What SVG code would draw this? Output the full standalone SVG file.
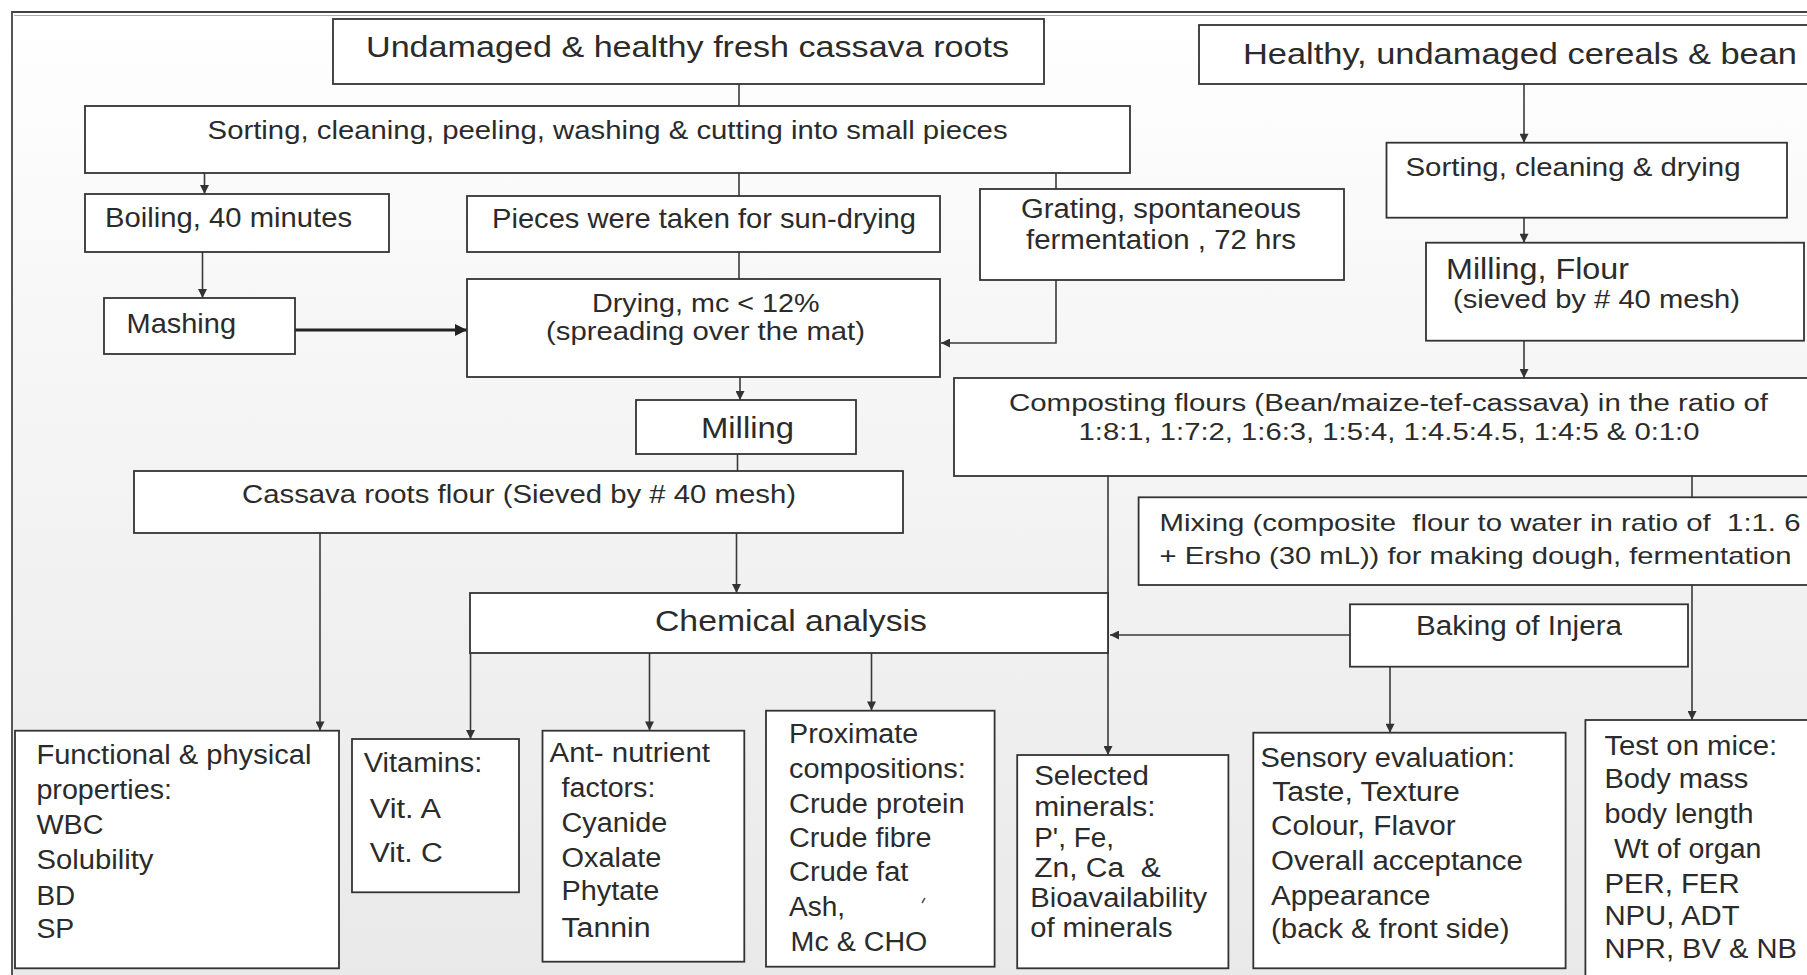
<svg xmlns="http://www.w3.org/2000/svg" width="1807" height="975" viewBox="0 0 1807 975">
<defs>
<linearGradient id="bg" x1="0" y1="0" x2="0" y2="1">
<stop offset="0" stop-color="#ffffff"/>
<stop offset="0.35" stop-color="#f6f6f6"/>
<stop offset="1" stop-color="#e9e9e9"/>
</linearGradient>
<marker id="ah" viewBox="0 0 10 10" refX="10" refY="5" markerWidth="10" markerHeight="9" markerUnits="userSpaceOnUse" orient="auto"><path d="M0,0 L10,5 L0,10 z" fill="#333"/></marker>
<marker id="ahb" viewBox="0 0 10 10" refX="10" refY="5" markerWidth="16" markerHeight="12" markerUnits="userSpaceOnUse" orient="auto"><path d="M0,0 L10,5 L0,10 z" fill="#222"/></marker>
<style>
.box{fill:#fff;stroke:#333;stroke-width:1.8}
.t{font-family:"Liberation Sans",Arial,sans-serif;fill:#2b2b2b}
.c{stroke:#3a3a3a;stroke-width:1.6;fill:none}
.ca{stroke:#3a3a3a;stroke-width:1.6;fill:none;marker-end:url(#ah)}
.f23{font-size:23px}.f24{font-size:24px}.f26{font-size:26px}.f27{font-size:27px}.f28{font-size:28px}.f29{font-size:29px}.f30{font-size:30px}
</style>
</defs>
<rect x="0" y="0" width="1807" height="975" fill="#fff"/>
<rect x="12" y="13" width="1800" height="970" fill="url(#bg)"/>
<g id="frame">
<path d="M12,980 V12 H1810" fill="none" stroke="#444" stroke-width="1.8"/>
<path d="M14,15.5 H1810" fill="none" stroke="#aaa" stroke-width="1"/>
</g>
<g id="connectors">
<path class="c" d="M739,84 V106"/>
<path class="c" d="M739,173 V196"/>
<path class="c" d="M739,252 V279"/>
<path class="ca" d="M204.5,173 V194"/>
<path class="ca" d="M202.5,252 V298"/>
<path d="M295,330 H467" fill="none" stroke="#222" stroke-width="3" marker-end="url(#ahb)"/>
<path class="c" d="M1056,173 V189"/>
<path class="ca" d="M1056,280 V343 H941"/>
<path class="ca" d="M740,377 V400"/>
<path class="c" d="M737.5,454 V471"/>
<path class="ca" d="M736.5,533 V593"/>
<path class="ca" d="M320,533 V730.5"/>
<path class="ca" d="M470.5,653 V739"/>
<path class="ca" d="M649.5,653 V730.5"/>
<path class="ca" d="M871.5,653 V710.5"/>
<path class="ca" d="M1108,476 V755"/>
<path class="ca" d="M1350,635 H1110"/>
<path class="ca" d="M1390,666.7 V732.7"/>
<path class="ca" d="M1692,476 V720"/>
<path class="ca" d="M1524,84 V142.7"/>
<path class="ca" d="M1524,217.7 V242.7"/>
<path class="ca" d="M1524,340.7 V378"/>
</g>
<g id="n1"><rect class="box" x="333" y="19" width="711" height="65"/><text class="t f29" x="366" y="57" textLength="643" lengthAdjust="spacingAndGlyphs">Undamaged &amp; healthy fresh cassava roots</text></g>
<g id="n2"><rect class="box" x="85" y="106" width="1045" height="67"/><text class="t f26" x="207.6" y="139" textLength="800" lengthAdjust="spacingAndGlyphs">Sorting, cleaning, peeling, washing &amp; cutting into small pieces</text></g>
<g id="n3"><rect class="box" x="85" y="194" width="304" height="58"/><text class="t f28" x="105" y="227" textLength="247" lengthAdjust="spacingAndGlyphs">Boiling, 40 minutes</text></g>
<g id="n4"><rect class="box" x="467" y="196" width="473" height="56"/><text class="t f28" x="492" y="228" textLength="424" lengthAdjust="spacingAndGlyphs">Pieces were taken for sun-drying</text></g>
<g id="n5"><rect class="box" x="980" y="189" width="364" height="91"/><text class="t f27" x="1021" y="218" textLength="280" lengthAdjust="spacingAndGlyphs">Grating, spontaneous</text><text class="t f27" x="1026" y="249" textLength="270" lengthAdjust="spacingAndGlyphs">fermentation , 72 hrs</text></g>
<g id="n6"><rect class="box" x="104" y="298" width="191" height="56"/><text class="t f28" x="126.5" y="333" textLength="109.5" lengthAdjust="spacingAndGlyphs">Mashing</text></g>
<g id="n7"><rect class="box" x="467" y="279" width="473" height="98"/><text class="t f26" x="592" y="312" textLength="227.5" lengthAdjust="spacingAndGlyphs">Drying, mc &lt; 12%</text><text class="t f26" x="546" y="340" textLength="319" lengthAdjust="spacingAndGlyphs">(spreading over the mat)</text></g>
<g id="n8"><rect class="box" x="636" y="400" width="220" height="54"/><text class="t f30" x="701" y="438" textLength="93" lengthAdjust="spacingAndGlyphs">Milling</text></g>
<g id="n9"><rect class="box" x="134" y="471" width="769" height="62"/><text class="t f26" x="242" y="503" textLength="554" lengthAdjust="spacingAndGlyphs">Cassava roots flour (Sieved by # 40 mesh)</text></g>
<g id="n10"><rect class="box" x="470" y="593" width="638" height="60"/><text class="t f29" x="655" y="631" textLength="272" lengthAdjust="spacingAndGlyphs">Chemical analysis</text></g>
<g id="n11"><rect class="box" x="1199" y="25" width="620" height="59"/><text class="t f29" x="1243" y="64" textLength="554" lengthAdjust="spacingAndGlyphs">Healthy, undamaged cereals &amp; bean</text></g>
<g id="n12"><rect class="box" x="1386.5" y="142.7" width="400.5" height="75"/><text class="t f26" x="1405.5" y="176" textLength="335" lengthAdjust="spacingAndGlyphs">Sorting, cleaning &amp; drying</text></g>
<g id="n13"><rect class="box" x="1426" y="242.7" width="378" height="98"/><text class="t f29" x="1446" y="279.3" textLength="183" lengthAdjust="spacingAndGlyphs">Milling, Flour</text><text class="t f26" x="1453" y="308.3" textLength="287" lengthAdjust="spacingAndGlyphs">(sieved by # 40 mesh)</text></g>
<g id="n14"><rect class="box" x="954" y="378" width="860" height="98"/><text class="t f23" x="1009" y="410.7" textLength="759" lengthAdjust="spacingAndGlyphs">Composting flours (Bean/maize-tef-cassava) in the ratio of</text><text class="t f23" x="1078.5" y="440" textLength="621" lengthAdjust="spacingAndGlyphs">1:8:1, 1:7:2, 1:6:3, 1:5:4, 1:4.5:4.5, 1:4:5 &amp; 0:1:0</text></g>
<g id="n15"><rect class="box" x="1138.6" y="497.3" width="675" height="87.7"/><text class="t f24" x="1159.5" y="530.7" textLength="641" lengthAdjust="spacingAndGlyphs">Mixing (composite &#160;flour to water in ratio of &#160;1:1. 6</text><text class="t f24" x="1159.5" y="564.3" textLength="632" lengthAdjust="spacingAndGlyphs">+ Ersho (30 mL)) for making dough, fermentation</text></g>
<g id="n16"><rect class="box" x="1350" y="604.3" width="338" height="62.4"/><text class="t f27" x="1416" y="635" textLength="206" lengthAdjust="spacingAndGlyphs">Baking of Injera</text></g>
<g id="n17"><rect class="box" x="15" y="730.7" width="324" height="237.6"/>
<text class="t f27" x="36.4" y="764" textLength="275" lengthAdjust="spacingAndGlyphs">Functional &amp; physical</text>
<text class="t f27" x="36.4" y="799.3" textLength="135.6" lengthAdjust="spacingAndGlyphs">properties:</text>
<text class="t f27" x="36.4" y="834" textLength="67.2" lengthAdjust="spacingAndGlyphs">WBC</text>
<text class="t f27" x="36.4" y="869.3" textLength="117" lengthAdjust="spacingAndGlyphs">Solubility</text>
<text class="t f27" x="36.4" y="905" textLength="38.7" lengthAdjust="spacingAndGlyphs">BD</text>
<text class="t f27" x="36.4" y="937.7" textLength="37.9" lengthAdjust="spacingAndGlyphs">SP</text></g>
<g id="n18"><rect class="box" x="352" y="739" width="167" height="153.3"/>
<text class="t f27" x="363.8" y="771.7" textLength="118.6" lengthAdjust="spacingAndGlyphs">Vitamins:</text>
<text class="t f27" x="369.7" y="818.3" textLength="71.2" lengthAdjust="spacingAndGlyphs">Vit. A</text>
<text class="t f27" x="369.7" y="861.7" textLength="73.2" lengthAdjust="spacingAndGlyphs">Vit. C</text></g>
<g id="n19"><rect class="box" x="542.5" y="730.7" width="201.8" height="231"/>
<text class="t f27" x="549.6" y="761.7" textLength="160.4" lengthAdjust="spacingAndGlyphs">Ant- nutrient</text>
<text class="t f27" x="561.5" y="796.7" textLength="93.9" lengthAdjust="spacingAndGlyphs">factors:</text>
<text class="t f27" x="561.5" y="831.7" textLength="105.7" lengthAdjust="spacingAndGlyphs">Cyanide</text>
<text class="t f27" x="561.5" y="866.7" textLength="99.8" lengthAdjust="spacingAndGlyphs">Oxalate</text>
<text class="t f27" x="561.5" y="900" textLength="97.8" lengthAdjust="spacingAndGlyphs">Phytate</text>
<text class="t f27" x="561.5" y="936.7" textLength="89.1" lengthAdjust="spacingAndGlyphs">Tannin</text></g>
<g id="n20"><rect class="box" x="766" y="710.7" width="228.6" height="256"/>
<text class="t f27" x="789" y="743.3" textLength="129.3" lengthAdjust="spacingAndGlyphs">Proximate</text>
<text class="t f27" x="789" y="778.3" textLength="176.8" lengthAdjust="spacingAndGlyphs">compositions:</text>
<text class="t f27" x="789" y="813.3" textLength="175.6" lengthAdjust="spacingAndGlyphs">Crude protein</text>
<text class="t f27" x="789" y="846.7" textLength="142.4" lengthAdjust="spacingAndGlyphs">Crude fibre</text>
<text class="t f27" x="789" y="880.7" textLength="119.4" lengthAdjust="spacingAndGlyphs">Crude fat</text>
<text class="t f27" x="789" y="916" textLength="56" lengthAdjust="spacingAndGlyphs">Ash,</text>
<text class="t f27" x="790.6" y="950.7" textLength="136.8" lengthAdjust="spacingAndGlyphs">Mc &amp; CHO</text>
<path d="M922,903 L925,898" stroke="#555" stroke-width="1.5" fill="none"/></g>
<g id="n21"><rect class="box" x="1017.2" y="755" width="211.2" height="213.3"/>
<text class="t f27" x="1034.2" y="785" textLength="114.6" lengthAdjust="spacingAndGlyphs">Selected</text>
<text class="t f27" x="1034.2" y="816" textLength="121.4" lengthAdjust="spacingAndGlyphs">minerals:</text>
<text class="t f27" x="1034.2" y="846.7" textLength="79.8" lengthAdjust="spacingAndGlyphs">P', Fe,</text>
<text class="t f27" x="1034.2" y="877.3" textLength="126.5" lengthAdjust="spacingAndGlyphs">Zn, Ca &#160;&amp;</text>
<text class="t f27" x="1030.2" y="906.7" textLength="176.8" lengthAdjust="spacingAndGlyphs">Bioavailability</text>
<text class="t f27" x="1030.2" y="936.7" textLength="142.4" lengthAdjust="spacingAndGlyphs">of minerals</text></g>
<g id="n22"><rect class="box" x="1253.3" y="732.7" width="312.3" height="235.6"/>
<text class="t f27" x="1260.4" y="766.7" textLength="254.6" lengthAdjust="spacingAndGlyphs">Sensory evaluation:</text>
<text class="t f27" x="1272.2" y="800.7" textLength="187.5" lengthAdjust="spacingAndGlyphs">Taste, Texture</text>
<text class="t f27" x="1271" y="835" textLength="184.7" lengthAdjust="spacingAndGlyphs">Colour, Flavor</text>
<text class="t f27" x="1271" y="870" textLength="251.9" lengthAdjust="spacingAndGlyphs">Overall acceptance</text>
<text class="t f27" x="1271" y="905" textLength="159.4" lengthAdjust="spacingAndGlyphs">Appearance</text>
<text class="t f27" x="1271" y="938.3" textLength="238.5" lengthAdjust="spacingAndGlyphs">(back &amp; front side)</text></g>
<g id="n23"><rect class="box" x="1585.4" y="720" width="240" height="270"/>
<text class="t f27" x="1604.4" y="755" textLength="172.8" lengthAdjust="spacingAndGlyphs">Test on mice:</text>
<text class="t f27" x="1604.4" y="788.3" textLength="143.9" lengthAdjust="spacingAndGlyphs">Body mass</text>
<text class="t f27" x="1604.4" y="823.3" textLength="149.1" lengthAdjust="spacingAndGlyphs">body length</text>
<text class="t f27" x="1613.9" y="858.3" textLength="147.5" lengthAdjust="spacingAndGlyphs">Wt of organ</text>
<text class="t f27" x="1604.4" y="892.7" textLength="135.2" lengthAdjust="spacingAndGlyphs">PER, FER</text>
<text class="t f27" x="1604.4" y="925" textLength="135.2" lengthAdjust="spacingAndGlyphs">NPU, ADT</text>
<text class="t f27" x="1604.4" y="958.3" textLength="192.6" lengthAdjust="spacingAndGlyphs">NPR, BV &amp; NB</text></g>
</svg>
